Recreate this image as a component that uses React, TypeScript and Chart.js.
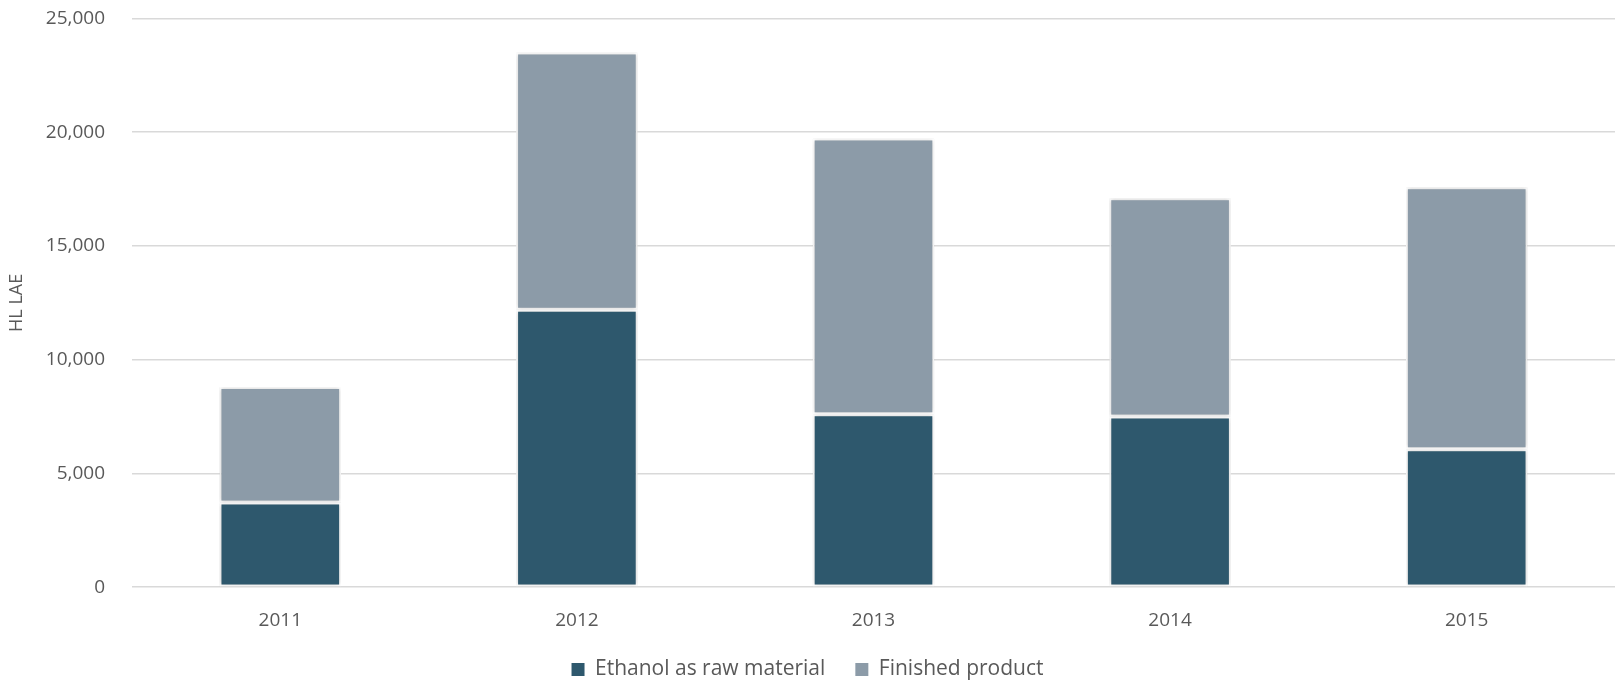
import React, { useEffect, useRef } from "react";
import { Chart, registerables } from "chart.js";

Chart.register(...registerables);

const categories = ["2011", "2012", "2013", "2014", "2015"];
const ethanolRaw = [3720, 12200, 7600, 7500, 6060];
const finishedProduct = [5080, 11300, 12120, 9600, 11520];
const seriesNames = ["Ethanol as raw material", "Finished product"];
const yAxisTitle = "HL LAE";

const FONT = "'Open Sans', 'Noto Sans', sans-serif";
const TEXT = "#595959";

const shadowPlugin = {
  id: "barShadow",
  beforeDatasetDraw(chart: any) {
    const ctx = chart.ctx;
    ctx.save();
    ctx.shadowColor = "rgba(0,0,0,0.22)";
    ctx.shadowBlur = 4;
    ctx.shadowOffsetX = 0;
    ctx.shadowOffsetY = 0;
  },
  afterDatasetDraw(chart: any) {
    chart.ctx.restore();
  },
};

export default function App() {
  const ref = useRef<HTMLCanvasElement | null>(null);

  useEffect(() => {
    document.body.style.margin = "0";
    const canvas = ref.current;
    if (!canvas) return;
    const chart = new Chart(canvas, {
      type: "bar",
      data: {
        labels: categories,
        datasets: [
          {
            label: seriesNames[0],
            data: ethanolRaw,
            backgroundColor: "#2E586D",
            borderColor: "#ffffff",
            borderWidth: 2,
            borderSkipped: false,
          },
          {
            label: seriesNames[1],
            data: finishedProduct,
            backgroundColor: "#8C9BA8",
            borderColor: "#ffffff",
            borderWidth: 2,
            borderSkipped: false,
          },
        ],
      },
      options: {
        animation: false,
        responsive: false,
        maintainAspectRatio: false,
        layout: { padding: { top: 0, left: 0, right: 0, bottom: -9 } },
        datasets: {
          bar: { categoryPercentage: 1, barPercentage: 0.41 },
        },
        plugins: {
          tooltip: { enabled: false },
          legend: {
            position: "bottom",
            labels: {
              color: TEXT,
              font: { family: FONT, size: 21 },
              boxWidth: 13,
              boxHeight: 13,
              padding: 30,
              generateLabels(chart: any) {
                return chart.data.datasets.map((ds: any, i: number) => ({
                  text: ds.label,
                  fillStyle: ds.backgroundColor,
                  strokeStyle: ds.backgroundColor,
                  lineWidth: 0,
                  hidden: false,
                  datasetIndex: i,
                  fontColor: TEXT,
                }));
              },
            },
          },
        },
        scales: {
          x: {
            stacked: true,
            clip: false,
            grid: { display: false, drawTicks: false },
            border: { display: false },
            ticks: {
              color: TEXT,
              font: { family: FONT, size: 19 },
              padding: 22,
            },
            afterFit(scale: any) {
              scale.height = scale.height - 25;
            },
          },
          y: {
            stacked: true,
            min: 0,
            max: 25000,
            border: { display: false },
            grid: { color: "#D9D9D9", lineWidth: 1.5, drawTicks: false },
            ticks: {
              stepSize: 5000,
              color: TEXT,
              font: { family: FONT, size: 19 },
              padding: 27,
              callback: (v: any) => Number(v).toLocaleString("en-US"),
            },
            title: {
              display: true,
              text: yAxisTitle,
              color: TEXT,
              font: { family: FONT, size: 18 },
              padding: { top: 6, bottom: 0 },
            },
            afterFit(scale: any) {
              scale.width = 132;
              scale.paddingTop = 18.5;
              scale.paddingBottom = 0;
            },
          },
        },
      },
      plugins: [shadowPlugin],
    });
    return () => chart.destroy();
  }, []);

  return (
    <div style={{ position: "absolute", left: 0, top: 0, width: 1615, height: 681, background: "#fff" }}>
      <canvas ref={ref} width={1615} height={681} style={{ width: 1615, height: 681, display: "block" }} />
    </div>
  );
}
